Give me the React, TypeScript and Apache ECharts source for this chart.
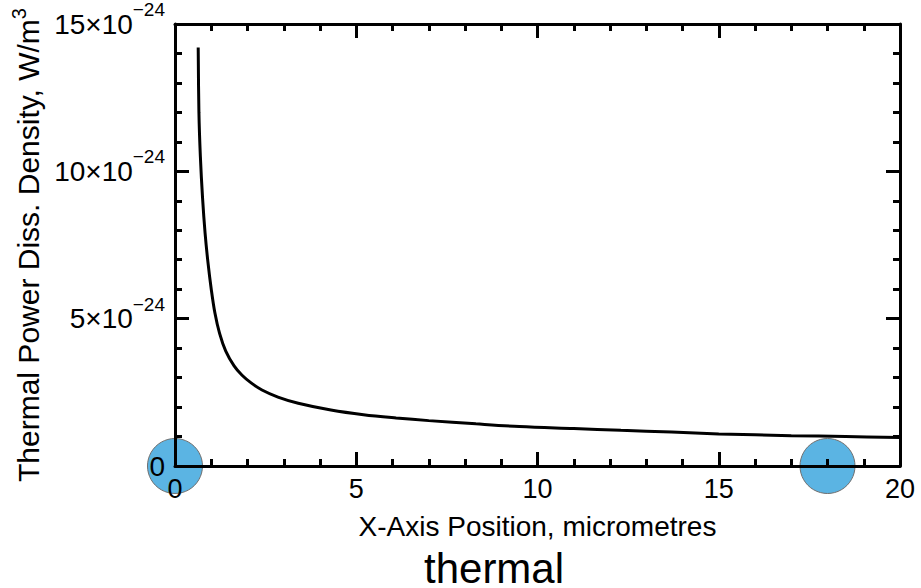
import React, { useEffect, useRef } from "react";
import * as echarts from "echarts";

// Curve values (y in units of 1e-24 W/m^3), x in micrometres
const xPositions = [0.64, 0.66, 0.7, 0.76, 0.83, 0.91, 1.0, 1.1, 1.23, 1.4, 1.63, 1.85, 2.1, 2.4, 2.84, 3.4, 4.3, 5.2, 6.1, 7.0, 8.3, 9.5, 11, 12.3, 13.7, 15, 17, 18.5, 20];
const powerDensity = [14.2, 12.0, 10.5, 9.1, 7.9, 6.9, 6.0, 5.2, 4.5, 3.9, 3.4, 3.08, 2.82, 2.58, 2.34, 2.13, 1.9, 1.74, 1.63, 1.54, 1.43, 1.34, 1.27, 1.21, 1.15, 1.09, 1.03, 1.0, 0.97];

// Highlighted marker positions
const markerX = [0, 18];
const markerY = [0, 0];

// Axis ranges
const xTicks = { min: 0, max: 20, interval: 5 };
const yTicks = { min: 0, max: 15, interval: 5 };
const yExponent = "−24";

const FONT = "'Liberation Sans', Arial, Helvetica, sans-serif";
const MARKER_R = 27.5;

function axisBase(): any {
  return {
    type: "value",
    axisLine: { show: true, onZero: false, lineStyle: { color: "#000", width: 3 } },
    axisTick: { show: true, inside: true, length: 14, lineStyle: { color: "#000", width: 3 } },
    minorTick: { show: true, splitNumber: 5, length: 7, lineStyle: { color: "#000", width: 3 } },
    splitLine: { show: false },
  };
}

export default function App() {
  const ref = useRef<HTMLDivElement>(null);
  useEffect(() => {
    if (!ref.current) return;
    document.body.style.margin = "0";
    const chart = echarts.init(ref.current, undefined, { renderer: "svg" });
    const curve = xPositions.map((x, i) => [x, powerDensity[i]]);
    const markers = markerX.map((x, i) => [x, markerY[i]]);
    chart.setOption({
      animation: false,
      textStyle: { fontFamily: FONT, color: "#000" },
      title: {
        text: "thermal",
        left: 424,
        top: 553,
        padding: 0,
        textStyle: { fontSize: 42, lineHeight: 30, fontWeight: "normal", color: "#000", fontFamily: FONT },
      },
      grid: { left: 175, right: 21, top: 24, bottom: 122 },
      xAxis: [
        {
          ...axisBase(),
          position: "bottom",
          ...xTicks,
          axisLabel: { fontSize: 27, color: "#000", margin: 9, fontFamily: FONT },
          name: "X-Axis Position, micrometres",
          nameLocation: "middle",
          nameGap: 46,
          nameTextStyle: { fontSize: 28, color: "#000", fontFamily: FONT },
        },
        {
          ...axisBase(),
          position: "top",
          ...xTicks,
          axisLabel: { show: false },
        },
      ],
      yAxis: [
        {
          ...axisBase(),
          position: "left",
          ...yTicks,
          axisLabel: {
            margin: 10,
            color: "#000",
            fontFamily: FONT,
            formatter: (v: number) => (v === 0 ? "{b|0}" : `{b|${v}×10}{s|${yExponent}}`),
            rich: {
              b: { fontSize: 28, lineHeight: 48, verticalAlign: "middle", color: "#000", fontFamily: FONT },
              s: { fontSize: 19, lineHeight: 19, verticalAlign: "top", color: "#000", fontFamily: FONT },
            },
          },
          name: "{t|Thermal Power Diss. Density, W/m}{s|3}",
          nameLocation: "middle",
          nameRotate: 90,
          nameGap: 119,
          nameTextStyle: {
            fontFamily: FONT,
            color: "#000",
            rich: {
              t: { fontSize: 30, lineHeight: 38, verticalAlign: "middle", color: "#000", fontFamily: FONT },
              s: { fontSize: 20, lineHeight: 20, verticalAlign: "top", color: "#000", fontFamily: FONT },
            },
          },
        },
        {
          ...axisBase(),
          position: "right",
          ...yTicks,
          axisLabel: { show: false },
        },
      ],
      series: [
        {
          type: "custom",
          data: markers,
          clip: false,
          z: -1,
          encode: { x: 0, y: 1 },
          renderItem: (_params: any, api: any) => {
            const p = api.coord([api.value(0), api.value(1)]);
            return {
              type: "circle",
              shape: { cx: p[0], cy: p[1], r: MARKER_R },
              style: { fill: "#5bb4e3", stroke: "#6e6e6e", lineWidth: 1 },
            };
          },
        },
        {
          type: "line",
          data: curve,
          showSymbol: false,
          smooth: 0.35,
          lineStyle: { color: "#000", width: 3 },
        },
      ],
    });
    return () => chart.dispose();
  }, []);
  return <div ref={ref} style={{ position: "absolute", left: 0, top: 0, width: 921, height: 588 }} />;
}
